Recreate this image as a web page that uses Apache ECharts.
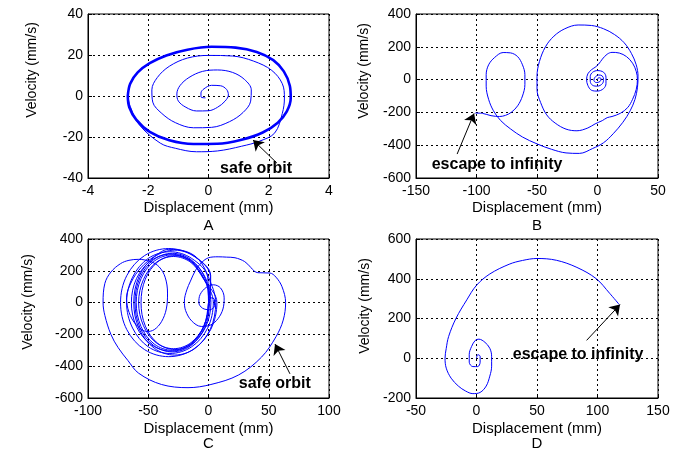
<!DOCTYPE html>
<html>
<head>
<meta charset="utf-8">
<script src="https://cdn.jsdelivr.net/npm/echarts@6/dist/echarts.min.js"></script>
<style>
html, body { margin: 0; background: #fff; }
#main { width: 681px; height: 452px; }
</style>
</head>
<body>
<div id="main"></div>
<script>
// phase portraits: [displacement (mm), velocity (mm/s)]
var spiralA = [
  [-0.1,-0.9],[-0.25,-0.5],[-0.25,1.5],[-0.15,3.5],[0.1,5.2],[0.4,5],[0.6,3.2],[0.66,0.5],[0.55,-2.5],
  [0.3,-5.5],[0,-7.2],[-0.4,-7.3],[-0.75,-5.5],[-1,-2.5],[-1.05,1],[-0.95,5],[-0.65,9],[-0.2,12],
  [0.3,12.7],[0.8,11.5],[1.2,8],[1.42,3],[1.4,-2.5],[1.15,-8],[0.7,-12.5],[0.1,-15.3],[-0.5,-15.5],
  [-1.1,-13],[-1.55,-8.5],[-1.85,-3],[-1.88,3],[-1.7,9],[-1.3,14.5],[-0.7,18.5],[0,19.8],[0.8,19.5],
  [1.5,17],[2.1,12.5],[2.45,6],[2.52,-1],[2.45,-8.5],[2.2,-18],[1.7,-22],[1.1,-24.5],[0.3,-26.8],
  [-0.4,-27.2],[-1.1,-25.5],[-1.6,-23],[-2.3,-14],[-2.6,-5],[-2.68,0]
];
var orbitA = [
  [-2.68,0],[-2.6,6],[-2.35,11.5],[-1.95,16],[-1.4,19.8],[-0.7,22.6],[0.1,24],[0.9,23.6],[1.6,21.5],
  [2.15,17.5],[2.5,12],[2.7,5],[2.73,-1],[2.6,-7.5],[2.3,-13],[1.8,-17.8],[1.1,-21.3],[0.3,-23.3],
  [-0.5,-23.4],[-1.3,-21.6],[-1.95,-17.5],[-2.4,-11.5],[-2.63,-5.5],[-2.68,0]
];
var pathB = [
  [0,0],[1,12],[3,5],[2,-12],[-1,-18],[-3,-5],[-2,15],[1,28],[4,22],[5,0],[4,-25],[0,-40],[-4,-35],
  [-6,-10],[-6,20],[-4,45],[0,55],[5,45],[7,15],[7,-25],[5,-55],[0,-70],[-5,-65],[-8,-35],[-9,0],
  [-8,35],[-5,60],[-2,75],[1,95],[4,125],[8,155],[12,166],[18,162],[24,140],[29,100],[32,50],[33,0],
  [32,-60],[29,-120],[25,-170],[19,-205],[12,-225],[8,-232],[4,-250],[-2,-270],[-8,-295],[-17,-312],
  [-26,-302],[-35,-265],[-42,-215],[-47,-140],[-50,-60],[-50,20],[-48,110],[-43,200],[-36,265],
  [-27,310],[-16,333],[-5,330],[5,310],[14,275],[22,225],[28,160],[32,90],[33.5,20],[33,-50],
  [31,-120],[27,-190],[21,-260],[13,-330],[5,-385],[-4,-420],[-15,-450],[-26,-447],[-38,-425],
  [-50,-392],[-62,-350],[-72,-300],[-80,-250],[-86,-190],[-90,-120],[-92,-40],[-92,30],[-90,90],
  [-85,135],[-78,165],[-72,163],[-66,140],[-62,90],[-60,30],[-60,-30],[-62,-100],[-66,-160],
  [-71,-198],[-76,-218],[-81,-225],[-88,-220],[-95,-206],[-101,-204]
];
var pathC = [
  // start near the origin, growing loops
  [0,0],[2,30],[5,20],[5,-20],[1,-45],[-5,-35],[-8,0],[-7,50],[-2,95],[4,112],[10,92],[13,30],
  [12,-40],[8,-100],[2,-140],[-6,-150],[-14,-115],[-19,-50],[-20,10],[-18,80],[-15,135],[-11,200],
  // the big safe orbit loop
  [-7,242],[0,282],[8,288],[15,286],[22,282],[30,258],[35,222],[38,198],[41,188],[46,187],[51,186],
  [56,160],[61,100],[64,0],[62,-110],[56,-215],[44,-343],[25,-455],[2,-515],[-17,-535],[-39,-515],
  [-58,-444],[-67,-363],[-75,-283],[-81,-200],[-86,-81],[-87.5,0],[-86,121],[-81,192],[-73,245],
  [-66,266],[-58,272],[-48,258],[-41,225],[-36,160],[-34,60],[-35,-40],[-39,-120],[-45,-170],
  [-51,-182],[-60,-140],[-66,-60],[-68,30],[-64,130],[-56,220],[-45,290],[-33,335],[-18,320],
  [-8,270],[0,160],
  // settling loops around x = -30
  [6,0],[1.6,-165],[-11,-287],[-28,-330],[-45,-287],[-57.6,-165],[-62,0],[-57.6,165],[-45,287],[-28,330],[-11,287],[1.6,165],
  [0,0],[-3.9,-150],[-15,-261],[-30,-300],[-45,-261],[-56,-150],[-60,0],[-56,150],[-45,261],[-30,300],[-15,261],[-3.9,150],
  [4,0],[-0.7,-160],[-14,-278],[-32,-320],[-50,-278],[-63,-160],[-68,0],[-63,160],[-50,278],[-32,320],[-14,278],[-0.7,160],
  [0,0],[-3.8,-145],[-14.5,-252],[-29,-290],[-43.5,-252],[-54,-145],[-58,0],[-54,145],[-43.5,252],[-29,290],[-14.5,252],[-3.8,145],
  [7,0],[1.8,-170],[-13,-296],[-33,-340],[-53,-296],[-67.8,-170],[-73,0],[-67.8,170],[-53,296],[-33,340],[-13,296],[1.8,170],
  [1,0],[-3,-155],[-14.5,-270],[-30,-310],[-45.5,-270],[-57,-155],[-61,0],[-57,155],[-45.5,270],[-30,310],[-14.5,270],[-3,155],
  [0,0],[-3.6,-148],[-14,-257],[-28,-295],[-42,-257],[-52.4,-148],[-56,0],[-52.4,148],[-42,257],[-28,295],[-14,257],[-3.6,148],
  [2,0],[-2.3,-152],[-14.5,-265],[-31,-305],[-47.5,-265],[-59.7,-152],[-64,0],[-59.7,152],[-47.5,265],[-31,305],[-14.5,265],[-2.3,152],
  [1,0]
];
var pathD = [
  [0,0],[1,18],[3,10],[3,-20],[1,-42],[-3,-42],[-6,-20],[-6,20],[-4,60],[-1,90],[2,96],[7,80],
  [11,50],[12.5,10],[12.5,-40],[11,-90],[8,-140],[3,-172],[-3,-178],[-9,-165],[-15,-140],[-21,-100],
  [-25,-50],[-26,0],[-25,50],[-23,110],[-17,200],[-8,294],[0,367],[11,424],[27,473],[38,492],
  [50,502],[66,493],[83,457],[99,400],[110,327],[118,270]
];

// axis ranges per panel: [min, max, step]
var xRange = [[-4,4,2],[-150,50,50],[-100,100,50],[-50,150,50]];
var yRange = [[-40,40,20],[-600,400,200],[-600,400,200],[-200,600,200]];
var letters = ['A','B','C','D'];

// annotations: label position, arrow tail, arrow head (data coords)
var notes = [
  {text:'safe orbit', at:[1.58,-35.6], tail:[2.27,-32.7], head:[1.48,-21.5]},
  {text:'escape to infinity', at:[-83,-521], tail:[-116,-454], head:[-102,-206]},
  {text:'safe orbit', at:[55,-509], tail:[67.6,-448], head:[55.2,-261]},
  {text:'escape to infinity', at:[84,20], tail:[91,90], head:[118.6,270]}
];

var font = 'Liberation Sans, Arial, sans-serif';
var blue = '#0000ff';

var grids = [
  {left: 88, top: 14, width: 241, height: 164},
  {left: 416, top: 14, width: 242, height: 164},
  {left: 88, top: 239, width: 241, height: 165},
  {left: 416, top: 239, width: 242, height: 165}
];
grids.forEach(function (g) {
  g.show = true; g.borderColor = '#000'; g.borderWidth = 1; g.backgroundColor = '#fff';
});

function axis(i, r, isX) {
  var ax = {
    type: 'value', gridIndex: i, min: r[0], max: r[1], interval: r[2],
    axisLine: {show: true, onZero: false, lineStyle: {color: '#000', width: 1}},
    axisTick: {show: true, inside: true, length: 4, lineStyle: {color: '#000'}},
    axisLabel: {color: '#000', fontSize: 14, fontFamily: font, margin: isX ? 6 : 5},
    splitLine: {show: true, lineStyle: {color: '#000', type: [2, 3], width: 1}}
  };
  if (isX) {
    ax.name = 'Displacement (mm)\n' + letters[i];
    ax.nameLocation = 'middle';
    ax.nameGap = i < 2 ? 19 : 23;
    ax.nameTextStyle = {color: '#000', fontSize: 15, fontFamily: font, lineHeight: i < 2 ? 18 : 15};
  }
  return ax;
}

var xAxes = [], yAxes = [], series = [];
for (var i = 0; i < 4; i++) {
  xAxes.push(axis(i, xRange[i], true));
  yAxes.push(axis(i, yRange[i], false));
}

function line(i, data, width) {
  return {
    type: 'line', xAxisIndex: i, yAxisIndex: i, data: data,
    symbol: 'none', smooth: 0.35, z: 3,
    lineStyle: {color: blue, width: width}
  };
}
series.push(line(0, spiralA, 1));
series.push(line(0, orbitA, 2.6));
series.push(line(1, pathB, 1));
series.push(line(2, pathC, 1));
series.push(line(3, pathD, 1));

notes.forEach(function (n, i) {
  series.push({
    type: 'line', xAxisIndex: i, yAxisIndex: i, data: [], z: 5,
    markLine: {
      silent: true, symbol: ['none', 'arrow'], symbolSize: 10,
      lineStyle: {color: '#000', width: 1, type: 'solid'},
      itemStyle: {color: '#000'},
      label: {show: false},
      data: [[{coord: n.tail}, {coord: n.head}]]
    },
    markPoint: {
      silent: true, symbol: 'circle', symbolSize: 0,
      label: {show: true, position: 'inside', formatter: n.text, color: '#000',
        fontSize: 16, fontWeight: 'bold', fontFamily: font},
      data: [{coord: n.at}]
    }
  });
});

// y axis titles
var yTitlePos = [[32, 70], [364, 71], [28, 302], [365, 306]];
var graphic = yTitlePos.map(function (p) {
  return {
    type: 'text', x: p[0], y: p[1], rotation: Math.PI / 2,
    style: {text: 'Velocity (mm/s)', fill: '#000', font: '14px ' + font,
      align: 'center', verticalAlign: 'middle'}
  };
});

var chart = echarts.init(document.getElementById('main'));
chart.setOption({
  animation: false,
  backgroundColor: '#fff',
  grid: grids,
  xAxis: xAxes,
  yAxis: yAxes,
  series: series,
  graphic: graphic
});
</script>
</body>
</html>
